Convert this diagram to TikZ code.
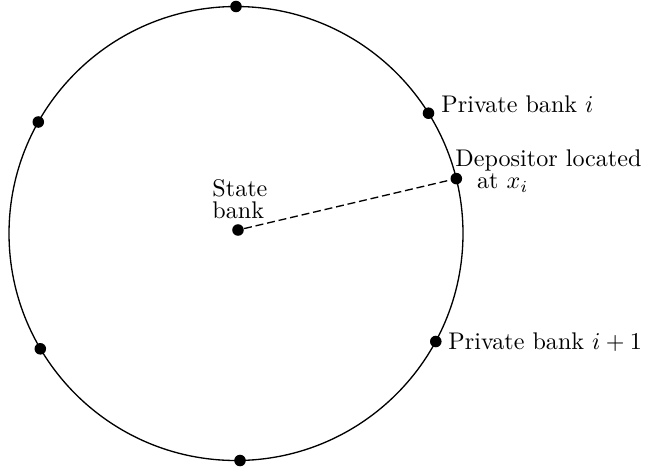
\documentclass[tikz,border=0pt]{standalone}
\begin{document}
\begin{tikzpicture}[x=0.415pt,y=-0.415pt,
  dot/.style={circle,fill=black,inner sep=0pt,minimum size=4.8pt},
  lbl/.style={inner sep=0pt,font=\fontsize{10}{9.2}\selectfont},
  ring/.style={line width=0.55pt},
  link/.style={line width=0.55pt,dash pattern=on 3.3pt off 1.6pt}]
\useasboundingbox (0,0) rectangle (646,470);
\coordinate (O) at (236,233.5);
\draw[ring] (O) circle[radius=94.2pt];
\node[dot] (top) at (236,6.5) {};
\node[dot] (bot) at (240,460.5) {};
\node[dot] (lu) at (38.3,122) {};
\node[dot] (ll) at (40.3,348.8) {};
\node[dot] (pi) at (428.5,113.2) {};
\node[dot] (dep) at (456.3,178.6) {};
\node[dot] (pi1) at (435.8,341.5) {};
\node[dot] (sb) at (238,230) {};
\draw[link] (sb) -- (dep);
\node[lbl,anchor=base west] (tpi) at (441,112) {Private bank $i$};
\node[lbl,anchor=base west] (tpi1) at (448,349) {Private bank $i+1$};
\node[lbl,anchor=south west,align=left] (tdep) at (455,193) {Depositor located\\\hspace*{9pt}at $x_i$};
\node[lbl,anchor=south west,align=left] (tsb) at (212,219) {State\\bank};
\end{tikzpicture}
\end{document}
